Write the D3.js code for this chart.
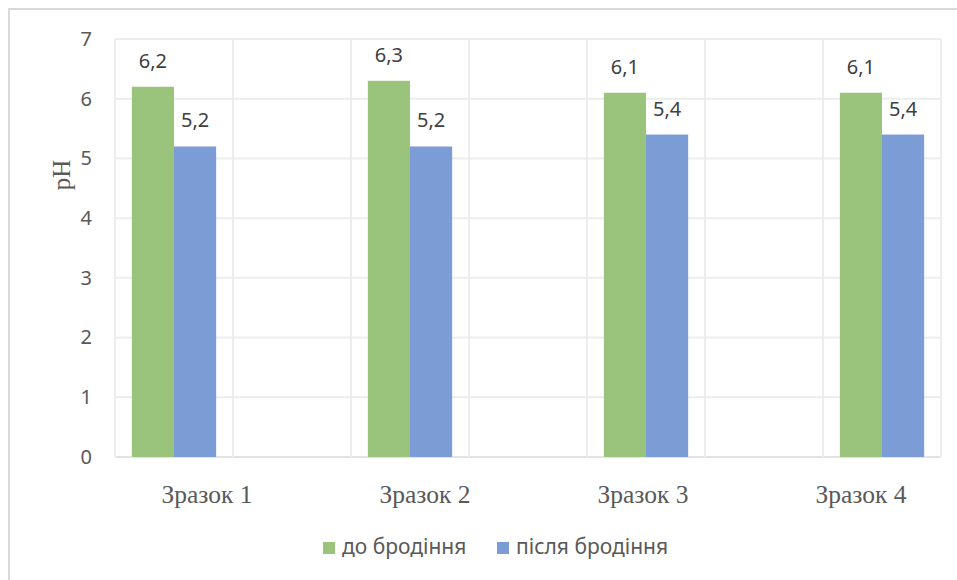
<!DOCTYPE html>
<html>
<head>
<meta charset="utf-8">
<script src="https://cdn.jsdelivr.net/npm/d3@7"></script>
<style>
  html, body { margin: 0; padding: 0; background: #fff; }
  svg { display: block; }
</style>
</head>
<body>
<svg id="chart" width="957" height="580"></svg>
<script>
// pH of each sample before and after fermentation
const samples = ["Зразок 1", "Зразок 2", "Зразок 3", "Зразок 4"];
const seriesNames = ["до бродіння", "після бродіння"];
const beforeFerment = [6.2, 6.3, 6.1, 6.1];
const afterFerment = [5.2, 5.2, 5.4, 5.4];
const yTicks = [0, 1, 2, 3, 4, 5, 6, 7];
const colors = ["#9AC47C", "#7B9CD4"];

const svg = d3.select("#chart");
const W = 957, H = 580;
const plot = { left: 115, right: 941, top: 39, bottom: 457 };

const sans = "'Noto Sans', 'Open Sans', sans-serif";
const serif = "'Liberation Serif', 'DejaVu Serif', serif";
const textGray = "#595959";

// Chart frame
svg.append("rect").attr("x", 9).attr("y", 9)
  .attr("width", W + 20).attr("height", H + 20)
  .attr("fill", "#fff").attr("stroke", "#D9D9D9").attr("stroke-width", 2);

// Seven slots across the plot; samples occupy every other slot
const slots = d3.range(samples.length * 2 - 1);
const x = d3.scaleBand().domain(slots).range([plot.left, plot.right]).padding(0);
const y = d3.scaleLinear().domain([0, 7]).range([plot.bottom, plot.top]);
const inner = d3.scaleBand().domain([0, 1])
  .range([0, x.bandwidth()]).paddingOuter(0.4).paddingInner(0);

// Horizontal gridlines
svg.append("g").selectAll("line").data(yTicks).join("line")
  .attr("x1", plot.left).attr("x2", plot.right)
  .attr("y1", d => y(d)).attr("y2", d => y(d))
  .attr("stroke", d => d === 0 ? "#E3E3E3" : "#EDEDED").attr("stroke-width", 2);

// Vertical gridlines at slot boundaries
const bounds = slots.map(s => x(s)).concat([plot.right]);
svg.append("g").selectAll("line").data(bounds).join("line")
  .attr("x1", d => d).attr("x2", d => d)
  .attr("y1", plot.top).attr("y2", plot.bottom)
  .attr("stroke", "#EDEDED").attr("stroke-width", 2);

// Y axis labels
const yAxis = d3.axisLeft(y).tickValues(yTicks).tickSize(0).tickPadding(0)
  .tickFormat(d3.format("d"));
svg.append("g").attr("transform", `translate(${plot.left - 23},0)`)
  .call(yAxis)
  .call(g => g.select(".domain").remove())
  .call(g => g.selectAll("text")
    .attr("font-family", sans).attr("font-size", 20).attr("fill", textGray)
    .attr("dy", "0.32em"));

// Y axis title
svg.append("text")
  .attr("transform", "translate(70,175) rotate(-90)")
  .attr("text-anchor", "middle")
  .attr("font-family", serif).attr("font-size", 25).attr("fill", textGray)
  .text("pH");

// Bars
const rows = samples.map((s, i) => ({
  slot: i * 2,
  values: [beforeFerment[i], afterFerment[i]]
}));
const groups = svg.append("g").selectAll("g").data(rows).join("g")
  .attr("transform", d => `translate(${x(d.slot)},0)`);
groups.selectAll("rect").data(d => d.values).join("rect")
  .attr("x", (d, j) => inner(j))
  .attr("width", inner.bandwidth())
  .attr("y", d => y(d))
  .attr("height", d => y(0) - y(d))
  .attr("fill", (d, j) => colors[j]);

// Value labels
const fmt = v => d3.format(".1f")(v).replace(".", ",");
groups.selectAll("text").data(d => d.values).join("text")
  .attr("x", (d, j) => inner(j) + inner.bandwidth() / 2)
  .attr("y", d => y(d) - 19)
  .attr("text-anchor", "middle")
  .attr("font-family", sans).attr("font-size", 20).attr("fill", "#404040")
  .text(fmt);

// Category labels
const xl = d3.scalePoint().domain(samples).range([207, 861]);
svg.append("g").selectAll("text").data(samples).join("text")
  .attr("x", d => xl(d)).attr("y", 503)
  .attr("text-anchor", "middle")
  .attr("font-family", serif).attr("font-size", 25.5).attr("fill", textGray)
  .text(d => d);

// Legend
const legendX = d3.scaleOrdinal().domain(seriesNames).range([323, 497]);
const legend = svg.append("g").selectAll("g").data(seriesNames).join("g")
  .attr("transform", d => `translate(${legendX(d)},542)`);
legend.append("rect").attr("width", 12).attr("height", 12)
  .attr("fill", (d, i) => colors[i]);
legend.append("text").attr("x", 19).attr("y", 12)
  .attr("font-family", sans).attr("font-size", 21).attr("fill", textGray)
  .text(d => d);
</script>
</body>
</html>
